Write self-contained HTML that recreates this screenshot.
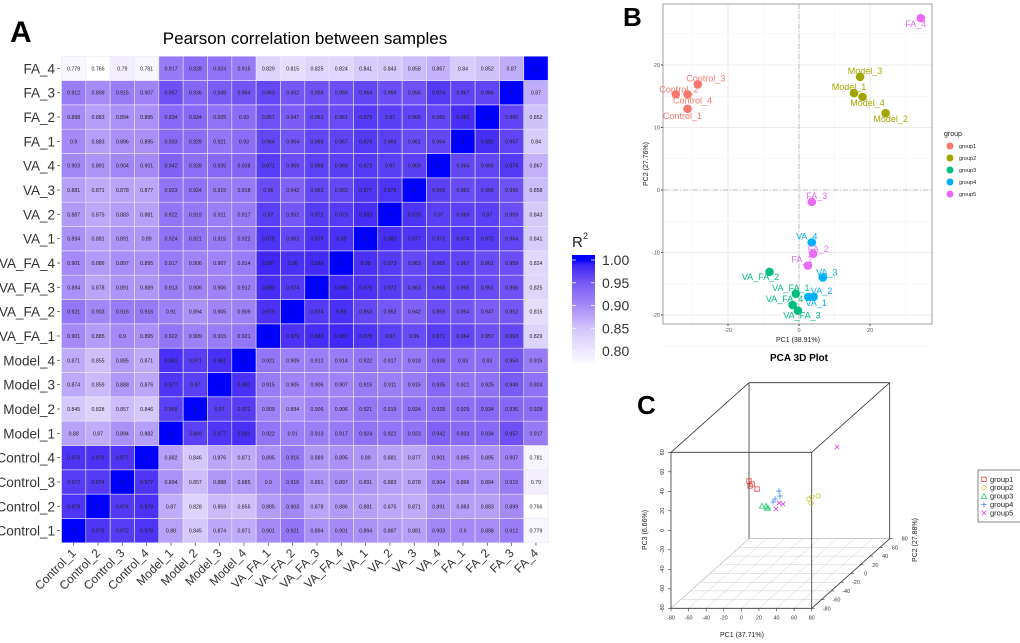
<!DOCTYPE html>
<html><head><meta charset="utf-8"><style>
html,body{margin:0;padding:0;background:#fff;width:1020px;height:643px;overflow:hidden}
svg{display:block;font-family:"Liberation Sans",Arial,sans-serif}
</style></head><body>
<svg id="fig" width="1020" height="643" viewBox="0 0 1020 643" xmlns="http://www.w3.org/2000/svg">
<text x="10" y="42" font-size="30" font-weight="bold">A</text>
<text x="305" y="44" font-size="17" text-anchor="middle">Pearson correlation between samples</text>
<g id="heat"></g>
<g id="cbar"></g>
<text x="623" y="26" font-size="26" font-weight="bold">B</text>
<g id="pca2"></g>
<text x="799" y="361" font-size="10" font-weight="bold" text-anchor="middle">PCA 3D Plot</text>
<text x="637" y="414" font-size="26" font-weight="bold">C</text>
<g id="pca3"></g>
</svg>
<script>
// ---------- Heatmap data ----------
const samples = ["Control_1","Control_2","Control_3","Control_4","Model_1","Model_2","Model_3","Model_4","VA_FA_1","VA_FA_2","VA_FA_3","VA_FA_4","VA_1","VA_2","VA_3","VA_4","FA_1","FA_2","FA_3","FA_4"];
const corrC1 = [1,0.978,0.972,0.978,0.88,0.845,0.874,0.871,0.901,0.921,0.894,0.901,0.894,0.887,0.881,0.903,0.9,0.898,0.912,0.779];
const corrC2 = [0.978,1,0.974,0.979,0.87,0.828,0.859,0.855,0.885,0.903,0.878,0.886,0.881,0.875,0.871,0.891,0.883,0.883,0.899,0.766];
const corrC3 = [0.972,0.974,1,0.977,0.894,0.857,0.888,0.885,0.9,0.916,0.891,0.897,0.891,0.883,0.878,0.904,0.896,0.894,0.915,0.79];
const corrC4 = [0.978,0.979,0.977,1,0.882,0.846,0.876,0.871,0.895,0.916,0.889,0.895,0.89,0.881,0.877,0.901,0.895,0.895,0.907,0.781];
const corrM1 = [0.88,0.87,0.894,0.882,1,0.969,0.977,0.981,0.922,0.91,0.913,0.917,0.924,0.922,0.923,0.942,0.933,0.934,0.957,0.917];
const corrM2 = [0.845,0.828,0.857,0.846,0.969,1,0.97,0.971,0.909,0.894,0.906,0.906,0.921,0.919,0.924,0.928,0.929,0.934,0.936,0.928];
const corrM3 = [0.874,0.859,0.888,0.876,0.977,0.97,1,0.981,0.915,0.905,0.906,0.907,0.915,0.911,0.915,0.935,0.921,0.925,0.949,0.924];
const corrM4 = [0.871,0.855,0.885,0.871,0.981,0.971,0.981,1,0.921,0.909,0.912,0.914,0.922,0.917,0.918,0.938,0.93,0.93,0.954,0.915];
const corrVF1 = [0.901,0.885,0.9,0.895,0.922,0.909,0.915,0.921,1,0.979,0.983,0.987,0.978,0.97,0.96,0.971,0.964,0.957,0.963,0.829];
const corrVF2 = [0.921,0.903,0.916,0.916,0.91,0.894,0.905,0.909,0.979,1,0.974,0.98,0.963,0.952,0.942,0.959,0.954,0.947,0.952,0.815];
const corrVF3 = [0.894,0.878,0.891,0.889,0.913,0.906,0.906,0.912,0.983,0.974,1,0.985,0.979,0.972,0.963,0.968,0.965,0.961,0.956,0.825];
const corrVF4 = [0.901,0.886,0.897,0.895,0.917,0.906,0.907,0.914,0.987,0.98,0.985,1,0.98,0.973,0.963,0.969,0.967,0.961,0.959,0.824];
const corrV1 = [0.894,0.881,0.891,0.89,0.924,0.921,0.915,0.922,0.978,0.963,0.979,0.98,1,0.983,0.977,0.973,0.974,0.973,0.964,0.841];
const corrV2 = [0.887,0.875,0.883,0.881,0.922,0.919,0.911,0.917,0.97,0.952,0.972,0.973,0.983,1,0.978,0.97,0.969,0.97,0.959,0.843];
const corrV3 = [0.881,0.871,0.878,0.877,0.923,0.924,0.915,0.918,0.96,0.942,0.963,0.963,0.977,0.978,1,0.969,0.961,0.966,0.956,0.858];
const corrV4 = [0.903,0.891,0.904,0.901,0.942,0.928,0.935,0.938,0.971,0.959,0.968,0.969,0.973,0.97,0.969,1,0.964,0.965,0.974,0.867];
const corrF1 = [0.9,0.883,0.896,0.895,0.933,0.929,0.921,0.93,0.964,0.954,0.965,0.967,0.974,0.969,0.961,0.964,1,0.982,0.967,0.84];
const corrF2 = [0.898,0.883,0.894,0.895,0.934,0.934,0.925,0.93,0.957,0.947,0.961,0.961,0.973,0.97,0.966,0.965,0.982,1,0.966,0.852];
const corrF3 = [0.912,0.899,0.915,0.907,0.957,0.936,0.949,0.954,0.963,0.952,0.956,0.959,0.964,0.959,0.956,0.974,0.967,0.966,1,0.87];
const corrF4 = [0.779,0.766,0.79,0.781,0.917,0.928,0.924,0.915,0.829,0.815,0.825,0.824,0.841,0.843,0.858,0.867,0.84,0.852,0.87,1];
const colorbarTicks = [1.00,0.95,0.90,0.85,0.80];

// ---------- PCA 2D data ----------
const pcaNames = ["Control_1","Control_2","Control_3","Control_4","Model_1","Model_2","Model_3","Model_4","VA_FA_1","VA_FA_2","VA_FA_3","VA_FA_4","VA_1","VA_2","VA_3","VA_4","FA_1","FA_2","FA_3","FA_4"];
const pcaGroup = [0,0,0,0,1,1,1,1,2,2,2,2,3,3,3,3,4,4,4,4];
const pc1 = [-31.4,-34.7,-28.5,-31.4,15.5,24.4,17.2,17.9,-0.9,-8.3,-0.3,-1.8,2.6,4.1,6.7,3.6,2.5,4.0,3.6,34.3];
const pc2 = [13.0,15.3,16.9,15.3,15.5,12.3,18.1,14.9,-16.6,-13.1,-19.3,-18.4,-17.1,-17.1,-14.0,-8.4,-12.1,-10.2,-1.9,27.5];
const pcaXTicks = [-20,0,20];
const pcaYTicks = [-20,-10,0,10,20];
const groupNames = ["group1","group2","group3","group4","group5"];

// ---------- PCA 3D data ----------
const p3Group = [0,0,0,0,1,1,1,1,2,2,2,2,3,3,3,3,4,4,4,4];
const p3x = [-45.1,-40.5,-42.8,-33.7,24.3,26,36.2,26.6,-13.7,-6.8,-4,-4.6,2.9,7.4,3.4,1.1,49.2,-0.4,8.6,1.7];
const p3y = [17,15,15,13,15,18,12,15,-13,-17,-18,-19,-8,-14,-17,-17,27.5,-2,-10,-12];
const p3z = [7.3,5.1,3.1,0.8,-10.3,-9.5,-5.8,-14.4,-4.9,-3.2,-4.8,-4.3,8.1,5.7,4,0.9,37.4,-6.8,-4.3,-8.5];
const axis3Ticks = [-80,-60,-40,-20,0,20,40,60,80];

const NS="http://www.w3.org/2000/svg";
function mk(parent,tag,attrs,text){const e=document.createElementNS(NS,tag);for(const k in attrs)e.setAttribute(k,attrs[k]);if(text!==undefined)e.textContent=text;parent.appendChild(e);return e;}

// ---------- Heatmap ----------
const corr=[corrC1,corrC2,corrC3,corrC4,corrM1,corrM2,corrM3,corrM4,corrVF1,corrVF2,corrVF3,corrVF4,corrV1,corrV2,corrV3,corrV4,corrF1,corrF2,corrF3,corrF4];
const stops=[[0.766,[255,255,255]],[0.85,[210,197,250]],[0.9,[165,138,247]],[0.95,[120,90,245]],[0.99,[60,35,245]],[1.0,[0,0,255]]];
function colorFn(v){
  if(v<=stops[0][0])return 'rgb(255,255,255)';
  for(let i=1;i<stops.length;i++){if(v<=stops[i][0]){const a=stops[i-1],b=stops[i];const t=(v-a[0])/(b[0]-a[0]);const c=a[1].map((x,k)=>Math.round(x+(b[1][k]-x)*t));return `rgb(${c})`;}}
  return 'rgb(0,0,255)';
}
const hx0=61.5,hy0=56.2,cw=24.33,ch=24.33,n=samples.length;
const colX=i=>hx0+i*cw;
const rowY=i=>hy0+(n-1-i)*ch;
const heat=document.getElementById('heat');
for(let r=0;r<n;r++){
  for(let c=0;c<n;c++){
    const v=corr[r][c];
    const rect=mk(heat,'rect',{x:colX(c),y:rowY(r),width:cw,height:ch,fill:colorFn(v),stroke:'#ece6fb','stroke-width':0.6});
    
    
    const t=mk(heat,'text',{x:colX(c)+cw/2,y:rowY(r)+ch/2+2,'font-size':5.2,'text-anchor':'middle',fill:'#222'},String(v));
    
    
  }
}
for(let i=0;i<n;i++){
  const yl=mk(heat,'text',{x:55,y:rowY(i)+ch/2+5,'font-size':13.5,'text-anchor':'end',fill:'#333'},samples[i]);
  
  
  mk(heat,'line',{x1:57,x2:60,y1:rowY(i)+ch/2,y2:rowY(i)+ch/2,stroke:'#555','stroke-width':0.8});
  const cx=colX(i)+cw/2, ty=hy0+n*ch+5;
  mk(heat,'line',{x1:cx,x2:cx,y1:hy0+n*ch,y2:hy0+n*ch+3,stroke:'#555','stroke-width':0.8});
  const xl=mk(heat,'text',{x:cx+3,y:ty+6,'font-size':12,'text-anchor':'end',fill:'#333',transform:`rotate(-45 ${cx+3} ${ty+6})`},samples[i]);
  
  
}
// ---------- Colorbar ----------
const cbar=document.getElementById('cbar');
const cbX=572,cbW=23,cbTop=255,cbBot=363;
const cbVal=y=>1.00-(y-260)/455;
const cbY=v=>260+(1.00-v)*455;
for(let y=cbTop;y<cbBot;y+=1){mk(cbar,'rect',{x:cbX,y:y,width:cbW,height:1.2,fill:colorFn(cbVal(y+0.5))});}
colorbarTicks.forEach(v=>{
  const y=cbY(v);
  mk(cbar,'line',{x1:cbX,x2:cbX+4,y1:y,y2:y,stroke:'#fff','stroke-width':0.8});
  mk(cbar,'line',{x1:cbX+cbW-4,x2:cbX+cbW,y1:y,y2:y,stroke:'#fff','stroke-width':0.8});
  const t=mk(cbar,'text',{x:602,y:y+5,'font-size':14,fill:'#333'},v.toFixed(2));
  
  
});
const rt=mk(cbar,'text',{x:572,y:247,'font-size':15,fill:'#222'},'R');


mk(cbar,'text',{x:583,y:239,'font-size':9,fill:'#222'},'2');

// ---------- PCA 2D ----------
const g2=document.getElementById('pca2');
const gcol=['#F8766D','#A3A500','#00BF7D','#00B0F6','#E76BF3'];
const px0=663,px1=932,py0=4,py1=324;
const sx=v=>799+v*3.55, sy=v=>190-v*6.25;
mk(g2,'rect',{x:px0,y:py0,width:px1-px0,height:py1-py0,fill:'#fff'});
for(let v=-30;v<=30;v+=10){mk(g2,'line',{x1:sx(v),x2:sx(v),y1:py0,y2:py1,stroke:v%20===0?'#e6e6e6':'#f2f2f2','stroke-width':v%20===0?0.8:0.5});}
for(let v=-25;v<=25;v+=5){mk(g2,'line',{x1:px0,x2:px1,y1:sy(v),y2:sy(v),stroke:v%10===0?'#e6e6e6':'#f2f2f2','stroke-width':v%10===0?0.8:0.5});}
mk(g2,'line',{x1:sx(0),x2:sx(0),y1:py0,y2:py1,stroke:'#bbb','stroke-width':1,'stroke-dasharray':'5 2 1 2'});
mk(g2,'line',{x1:px0,x2:px1,y1:sy(0),y2:sy(0),stroke:'#bbb','stroke-width':1,'stroke-dasharray':'5 2 1 2'});
mk(g2,'rect',{x:px0,y:py0,width:px1-px0,height:py1-py0,fill:'none',stroke:'#888','stroke-width':0.8});
pcaXTicks.forEach(v=>{mk(g2,'line',{x1:sx(v),x2:sx(v),y1:py1,y2:py1+2,stroke:'#555'});const t=mk(g2,'text',{x:sx(v),y:py1+8,'font-size':5.5,'text-anchor':'middle',fill:'#555'},String(v));});
pcaYTicks.forEach(v=>{mk(g2,'line',{x1:px0-2,x2:px0,y1:sy(v),y2:sy(v),stroke:'#555'});const t=mk(g2,'text',{x:px0-3,y:sy(v)+2,'font-size':5.5,'text-anchor':'end',fill:'#555'},String(v));});
const xt=mk(g2,'text',{x:798,y:342,'font-size':7,'text-anchor':'middle',fill:'#222'},'PC1 (38.91%)');

const yt=mk(g2,'text',{x:648,y:164,'font-size':7,'text-anchor':'middle',fill:'#222',transform:'rotate(-90 648 164)'},'PC2 (27.76%)');

const labOff=[[-5,7],[3,-5],[8,-6],[5,6],[-5,-6],[5,6],[5,-6],[5,6],[-5,-6],[-9,5],[4,5],[-8,-6],[8,6],[8,-6],[4,-5],[-5,-6],[-6,-6],[5,-5],[5,-6],[-5,6]];
for(let i=0;i<pcaNames.length;i++){
  const cx=sx(pc1[i]),cy=sy(pc2[i]),col=gcol[pcaGroup[i]];
  const c=mk(g2,'circle',{cx:cx,cy:cy,r:4.3,fill:col});
  
  
  const t=mk(g2,'text',{x:cx+labOff[i][0],y:cy+labOff[i][1]+3,'font-size':9,'text-anchor':'middle',fill:col},pcaNames[i]);
  
  
}
const lg=mk(g2,'text',{x:944,y:136,'font-size':7,fill:'#222'},'group');

groupNames.forEach((gname,k)=>{
  const y=146+k*12;
  const c=mk(g2,'circle',{cx:950,cy:y,r:3.5,fill:gcol[k]});
  
  const t=mk(g2,'text',{x:959,y:y+2,'font-size':5.5,fill:'#222'},gname);
  
});

// ---------- PCA 3D ----------
const g3=document.getElementById('pca3');
const X0=671,YB=608.3,kx=140.7/160,kdx=78/160,kdy=69.6/160,kz=156/160;
function proj(a,b,c){return [X0+(a+80)*kx+(b+80)*kdx, YB-(c+80)*kz-(b+80)*kdy];}
const L=(p,q,st,w)=>mk(g3,'line',{x1:p[0],y1:p[1],x2:q[0],y2:q[1],stroke:st,'stroke-width':w});
for(let v=-60;v<=60;v+=20){L(proj(-80,v,-80),proj(80,v,-80),'#ccc',0.5);L(proj(v,-80,-80),proj(v,80,-80),'#ccc',0.5);}
const c000=proj(-80,-80,-80),c100=proj(80,-80,-80),c010=proj(-80,80,-80),c110=proj(80,80,-80),c001=proj(-80,-80,80),c101=proj(80,-80,80),c011=proj(-80,80,80),c111=proj(80,80,80);
L(c010,c110,'#aaa',0.6);L(c000,c010,'#aaa',0.6);L(c100,c110,'#333',0.8);
L(c010,c011,'#333',0.8);L(c011,c111,'#333',0.8);L(c111,c110,'#333',0.8);
L(c001,c011,'#333',0.8);L(c101,c111,'#333',0.8);
L(c000,c100,'#333',0.8);L(c000,c001,'#333',0.8);L(c001,c101,'#333',0.8);L(c101,c100,'#333',0.8);
axis3Ticks.forEach(v=>{
  let p=proj(-80,-80,v);L([p[0]-3,p[1]],p,'#333',0.6);
  let t=mk(g3,'text',{x:p[0]-7,y:p[1],'font-size':5.5,'text-anchor':'middle',fill:'#333',transform:`rotate(-90 ${p[0]-7} ${p[1]})`},String(v));
  
  p=proj(v,-80,-80);L(p,[p[0],p[1]+3],'#333',0.6);
  t=mk(g3,'text',{x:p[0],y:p[1]+11,'font-size':5.5,'text-anchor':'middle',fill:'#333'},String(v));
  
  p=proj(80,v,-80);L(p,[p[0]+3,p[1]],'#333',0.6);
  t=mk(g3,'text',{x:p[0]+15,y:p[1]+2,'font-size':5.5,'text-anchor':'middle',fill:'#333'},String(v));
  
});
let at=mk(g3,'text',{x:742,y:637,'font-size':7,'text-anchor':'middle',fill:'#222'},'PC1 (37.71%)');

at=mk(g3,'text',{x:647,y:530,'font-size':7,'text-anchor':'middle',fill:'#222',transform:'rotate(-90 647 530)'},'PC3 (6.66%)');

at=mk(g3,'text',{x:917,y:540,'font-size':7,'text-anchor':'middle',fill:'#222',transform:'rotate(-90 917 540)'},'PC2 (27.88%)');

const col3=['#e8413c','#c7c73a','#2ecc71','#3d8cf0','#d63ce8'];
function marker(parent,k,x,y){
  const s=2.2,c=col3[k];let e;
  if(k===0)e=mk(parent,'rect',{x:x-s,y:y-s,width:2*s,height:2*s,fill:'none',stroke:c,'stroke-width':0.8});
  else if(k===1)e=mk(parent,'circle',{cx:x,cy:y,r:s,fill:'none',stroke:c,'stroke-width':0.8});
  else if(k===2)e=mk(parent,'polygon',{points:`${x},${y-s-0.5} ${x-s-0.4},${y+s} ${x+s+0.4},${y+s}`,fill:'none',stroke:c,'stroke-width':0.8});
  else if(k===3)e=mk(parent,'path',{d:`M${x-s-0.5},${y}H${x+s+0.5}M${x},${y-s-0.5}V${y+s+0.5}`,stroke:c,'stroke-width':0.8});
  else e=mk(parent,'path',{d:`M${x-s},${y-s}L${x+s},${y+s}M${x-s},${y+s}L${x+s},${y-s}`,stroke:c,'stroke-width':0.8});
  return e;
}
for(let i=0;i<p3x.length;i++){
  const p=proj(p3x[i],p3y[i],p3z[i]);
  const m=marker(g3,p3Group[i],p[0],p[1]);
  
  
}
const lb=mk(g3,'rect',{x:978,y:470,width:45,height:52,fill:'#fff',stroke:'#555','stroke-width':0.7});

groupNames.forEach((gname,k)=>{
  const y=479.3+k*8.4;
  const m=marker(g3,k,984,y);
  
  const t=mk(g3,'text',{x:990,y:y+2.5,'font-size':7.5,fill:'#222'},gname);
  
});
</script>
</body></html>
